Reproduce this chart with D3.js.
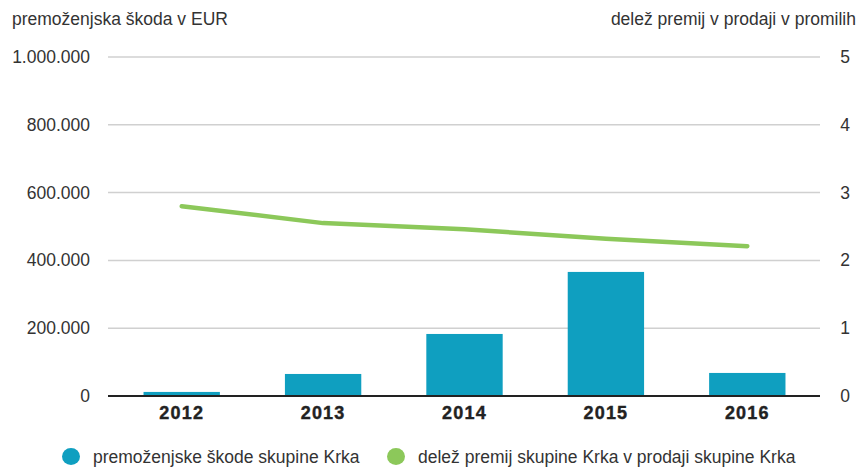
<!DOCTYPE html>
<html>
<head>
<meta charset="utf-8">
<script src="https://cdn.jsdelivr.net/npm/d3@7"></script>
<style>
  body { margin: 0; background: #fff; }
  text { font-family: "Liberation Sans", Arial, sans-serif; }
</style>
</head>
<body>
<div id="chart"></div>
<script>
// data
let years = ["2012", "2013", "2014", "2015", "2016"];
let damages = [12000, 65000, 183000, 366000, 68000];
let premiumShare = [2.80, 2.55, 2.46, 2.32, 2.21];
let leftTicks = [0, 200000, 400000, 600000, 800000, 1000000];
let rightTicks = [0, 1, 2, 3, 4, 5];
let seriesNames = ["premoženjske škode skupine Krka", "delež premij skupine Krka v prodaji skupine Krka"];

let chartWidth = 865, chartHeight = 469;
let plotLeft = 108, plotRight = 820, plotTop = 57, plotBottom = 396;
let blue = "#0f9fc0", green = "#8cc85a";
let fontSize = "17.5px";

let svg = d3.select("#chart").append("svg")
    .attr("width", chartWidth)
    .attr("height", chartHeight);

let xScale = d3.scaleBand().domain(years).range([111, 818])
    .paddingInner(0.46).paddingOuter(0.23);
let yLeft = d3.scaleLinear().domain([0, 1000000]).range([plotBottom, plotTop]);
let yRight = d3.scaleLinear().domain([0, 5]).range([plotBottom, plotTop]);

let fmt = d => d === 0 ? "0" : d3.format(",")(d).replace(/,/g, ".");

// gridlines
svg.append("g").selectAll("line")
    .data(leftTicks.filter(d => d > 0))
    .enter().append("line")
    .attr("x1", plotLeft).attr("x2", plotRight)
    .attr("y1", d => yLeft(d)).attr("y2", d => yLeft(d))
    .style("stroke", "#d0d0d0").style("stroke-width", 1.5);

// left axis labels
svg.append("g").selectAll("text")
    .data(leftTicks)
    .enter().append("text")
    .attr("x", 90).attr("y", d => yLeft(d) + 6)
    .attr("text-anchor", "end")
    .style("font-size", fontSize).style("fill", "#333")
    .text(fmt);

// right axis labels
svg.append("g").selectAll("text")
    .data(rightTicks)
    .enter().append("text")
    .attr("x", 845).attr("y", d => yRight(d) + 6)
    .attr("text-anchor", "middle")
    .style("font-size", fontSize).style("fill", "#333")
    .text(d => d);

// bars
svg.selectAll(".bar")
    .data(years)
    .enter().append("rect")
    .attr("class", "bar")
    .attr("x", d => xScale(d))
    .attr("y", (d, i) => yLeft(damages[i]))
    .attr("width", xScale.bandwidth())
    .attr("height", (d, i) => plotBottom - yLeft(damages[i]))
    .style("fill", blue);

// baseline
svg.append("line")
    .attr("x1", plotLeft).attr("x2", plotRight)
    .attr("y1", plotBottom).attr("y2", plotBottom)
    .style("stroke", "#222").style("stroke-width", 2);

// x labels
svg.append("g").selectAll("text")
    .data(years)
    .enter().append("text")
    .attr("x", d => xScale(d) + xScale.bandwidth() / 2)
    .attr("y", 419)
    .attr("text-anchor", "middle")
    .style("font-size", "18px").style("font-weight", "bold")
    .style("letter-spacing", "1.2px").style("fill", "#222")
    .style("stroke", "#222").style("stroke-width", 0.4)
    .text(d => d);

// line
let line = d3.line()
    .x((d, i) => xScale(years[i]) + xScale.bandwidth() / 2)
    .y(d => yRight(d));

svg.append("path")
    .datum(premiumShare)
    .attr("d", line)
    .style("fill", "none")
    .style("stroke", green)
    .style("stroke-width", 4.5)
    .style("stroke-linecap", "round")
    .style("stroke-linejoin", "round");

// axis titles
svg.append("text")
    .attr("x", 12).attr("y", 25)
    .style("font-size", fontSize).style("fill", "#333")
    .text("premoženjska škoda v EUR");

svg.append("text")
    .attr("x", 856).attr("y", 25)
    .attr("text-anchor", "end")
    .style("font-size", fontSize).style("fill", "#333")
    .text("delež premij v prodaji v promilih");

// legend
let legendX = [71, 396];
let legendColors = [blue, green];
let legend = svg.append("g").selectAll("g")
    .data(seriesNames)
    .enter().append("g");

legend.append("ellipse")
    .attr("cx", (d, i) => legendX[i]).attr("cy", 456.5)
    .attr("rx", 9).attr("ry", 8.5)
    .style("fill", (d, i) => legendColors[i]);

legend.append("text")
    .attr("x", (d, i) => legendX[i] + 22).attr("y", 463)
    .style("font-size", fontSize).style("fill", "#333")
    .text(d => d);
</script>
</body>
</html>
